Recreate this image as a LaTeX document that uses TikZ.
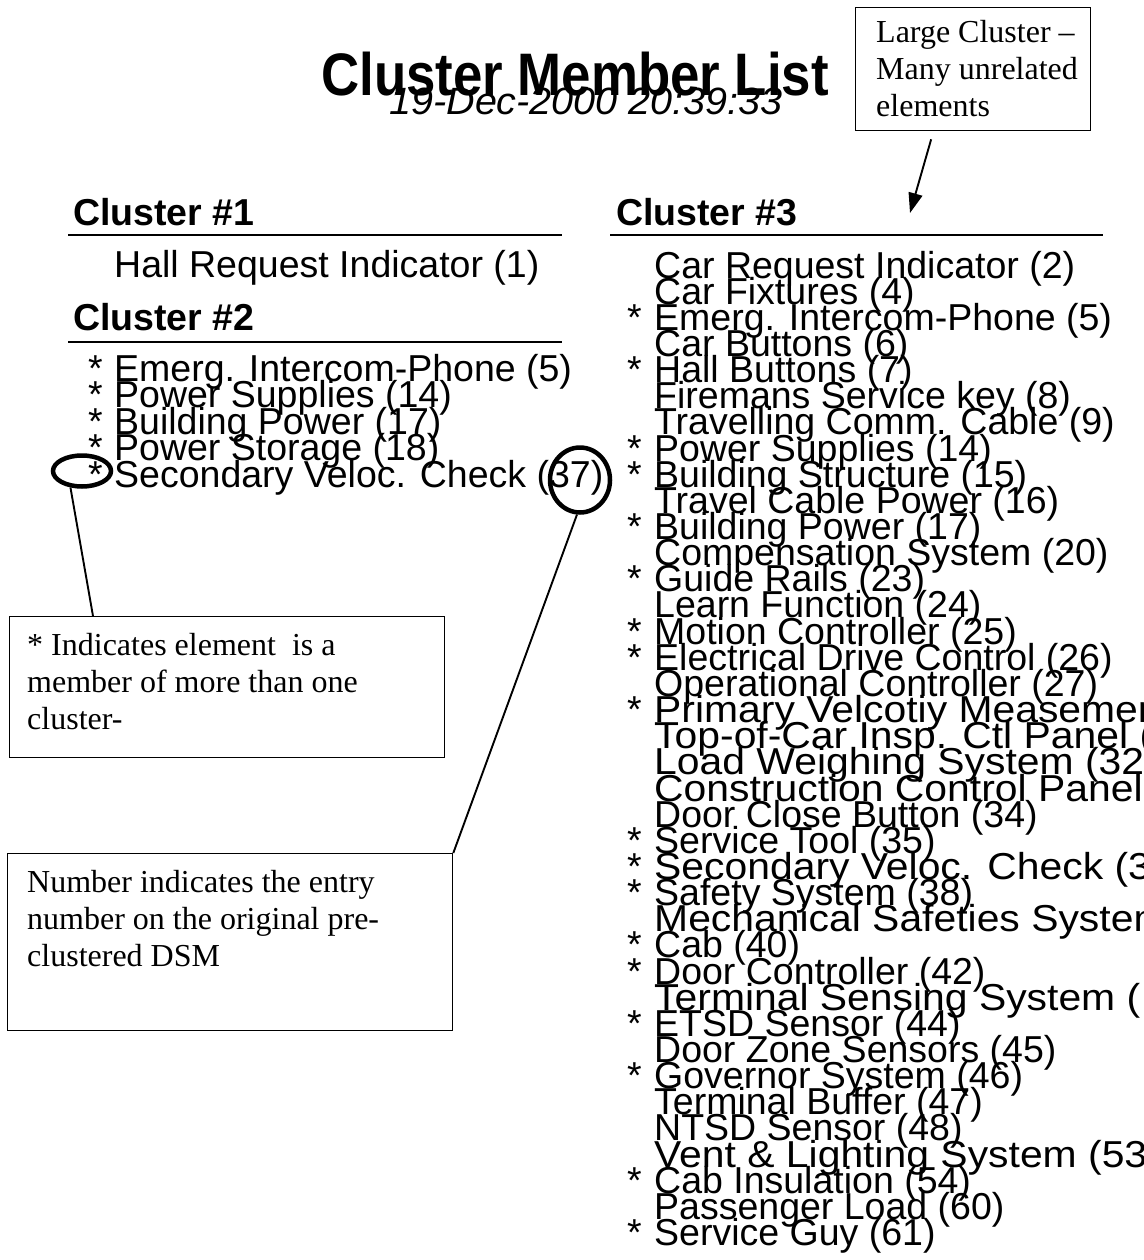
\documentclass[tikz,border=0pt]{standalone}
\usepackage{fontspec}
\setmainfont{Liberation Serif}
\newfontfamily\listfont{Liberation Sans}
\usetikzlibrary{positioning}
\usetikzlibrary{shapes.geometric}
\usetikzlibrary{arrows.meta}
% lines running past the right edge are set a little wider
\newcommand\runon[1]{\scalebox{1.09}[1]{#1}}

\begin{document}
\begin{tikzpicture}
 [ x=1pt, y=-1pt
 , title/.style={font=\listfont\bfseries\fontsize{60}{60}\selectfont, inner sep=0pt, anchor=base}
 , stamp/.style={font=\listfont\itshape\fontsize{38}{38}\selectfont, inner sep=0pt, anchor=base}
 , heading/.style={font=\listfont\bfseries\fontsize{37.5}{37.5}\selectfont, inner sep=0pt, anchor=base west}
 , entry/.style={font=\listfont\fontsize{37.5}{37.5}\selectfont, inner sep=0pt, anchor=base west}
 , rule line/.style={line width=1.6pt}
 , note box/.style={draw, line width=1.3pt, inner sep=0pt, anchor=north west}
 , note text/.style={font=\fontsize{32}{37}\selectfont, align=left, inner sep=0pt}
 , ring/.style={draw, ellipse, line width=4.5pt, inner sep=0pt}
 , leader/.style={line width=1.9pt}
 ]
  \useasboundingbox (0,0) rectangle (1143,1260);
  \clip (0,0) rectangle (1143,1260);

  % title and date stamp
  \node [title] (title) at (575,96) {\scalebox{0.88}[1]{Cluster Member List}};
  \node [stamp] (stamp) at (586,115) {\scalebox{1.04}[1]{19-Dec-2000 20:39:33}};

  % left column
  \node [heading] (c1 head) at (73,225) {Cluster \#1};
  \draw [rule line] (68,235) -- (562,235);
  \node [entry] (c1 e1) at (114,277) {Hall Request Indicator (1)};

  \node [heading] (c2 head) at (73,330) {Cluster \#2};
  \draw [rule line] (68,342) -- (562,342);
  \node [entry] (c2 e1) at (114,381) {Emerg. Intercom-Phone (5)};
  \node [entry] (c2 e2) at (114,407.5) {Power Supplies (14)};
  \node [entry] (c2 e3) at (114,434) {Building Power (17)};
  \node [entry] (c2 e4) at (114,460.5) {Power Storage (18)};
  \node [entry] (c2 e5) at (114,487) {Secondary Veloc. Check (37)};
  \foreach \k in {1,...,5}
    \node [entry] (c2 s\k) at (88,{381+26.5*(\k-1)}) {*};

  % right column
  \node [heading] (c3 head) at (616,225) {Cluster \#3};
  \draw [rule line] (610,235) -- (1103,235);
  \foreach \name [count=\i] in
    { Car Request Indicator (2), Car Fixtures (4), Emerg. Intercom-Phone (5)
    , Car Buttons (6), Hall Buttons (7), Firemans Service key (8)
    , Travelling Comm. Cable (9), Power Supplies (14), Building Structure (15)
    , Travel Cable Power (16), Building Power (17), Compensation System (20)
    , Guide Rails (23), Learn Function (24), Motion Controller (25)
    , Electrical Drive Control (26), Operational Controller (27)
    , \runon{Primary Velcotiy Measement}, \runon{Top-of-Car Insp. Ctl Panel (3}
    , \runon{Load Weighing System (32}, \runon{Construction Control Panel}
    , Door Close Button (34), Service Tool (35), \runon{Secondary Veloc. Check (3}
    , Safety System (38), \runon{Mechanical Safeties System}, Cab (40)
    , Door Controller (42), \runon{Terminal Sensing System (}, ETSD Sensor (44)
    , Door Zone Sensors (45), Governor System (46), Terminal Buffer (47)
    , NTSD Sensor (48), \runon{Vent \& Lighting System (53}, Cab Insulation (54)
    , Passenger Load (60), Service Guy (61)
    }
    \node [entry] (c3 e\i) at (654,{278+26.15*(\i-1)}) {\name};
  \foreach \i in {3,5,8,9,11,13,15,16,18,23,24,25,27,28,30,32,36,38}
    \node [entry] (c3 s\i) at (627,{278+26.15*(\i-1)}) {*};

  % callouts
  \node [note box, minimum width=235pt, minimum height=123pt] (big note) at (855,7) {};
  \node [note text, below right=13pt and 21pt of big note.north west]
    (big text) {Large Cluster \textendash\\Many unrelated\\elements};
  \coordinate (big tip) at (910,213);
  \draw [leader, -{Triangle[length=20pt, width=14pt]}]
    ([xshift=-42pt, yshift=-8pt]big note.south) -- (big tip);

  \node [note box, minimum width=435pt, minimum height=141pt] (star note) at (9,616) {};
  \node [note text, below right=17pt and 18pt of star note.north west]
    (star text) {* Indicates element\ \ is a\\member of more than one\\cluster-};

  \node [note box, minimum width=445pt, minimum height=177pt] (num note) at (7,853) {};
  \node [note text, below right=17pt and 20pt of num note.north west]
    (num text) {Number indicates the entry\\number on the original pre-\\clustered DSM};

  % rings and their leaders
  \node [ring, minimum width=58pt, minimum height=31pt] (star ring) at (82,471) {};
  \node [ring, minimum width=60pt, minimum height=65pt] (num ring) at (580,480) {};
  \draw [leader] (star ring.235) -- ([xshift=84pt]star note.north west);
  \draw [leader] (num ring.265) -- (num note.north east);
\end{tikzpicture}
\end{document}
